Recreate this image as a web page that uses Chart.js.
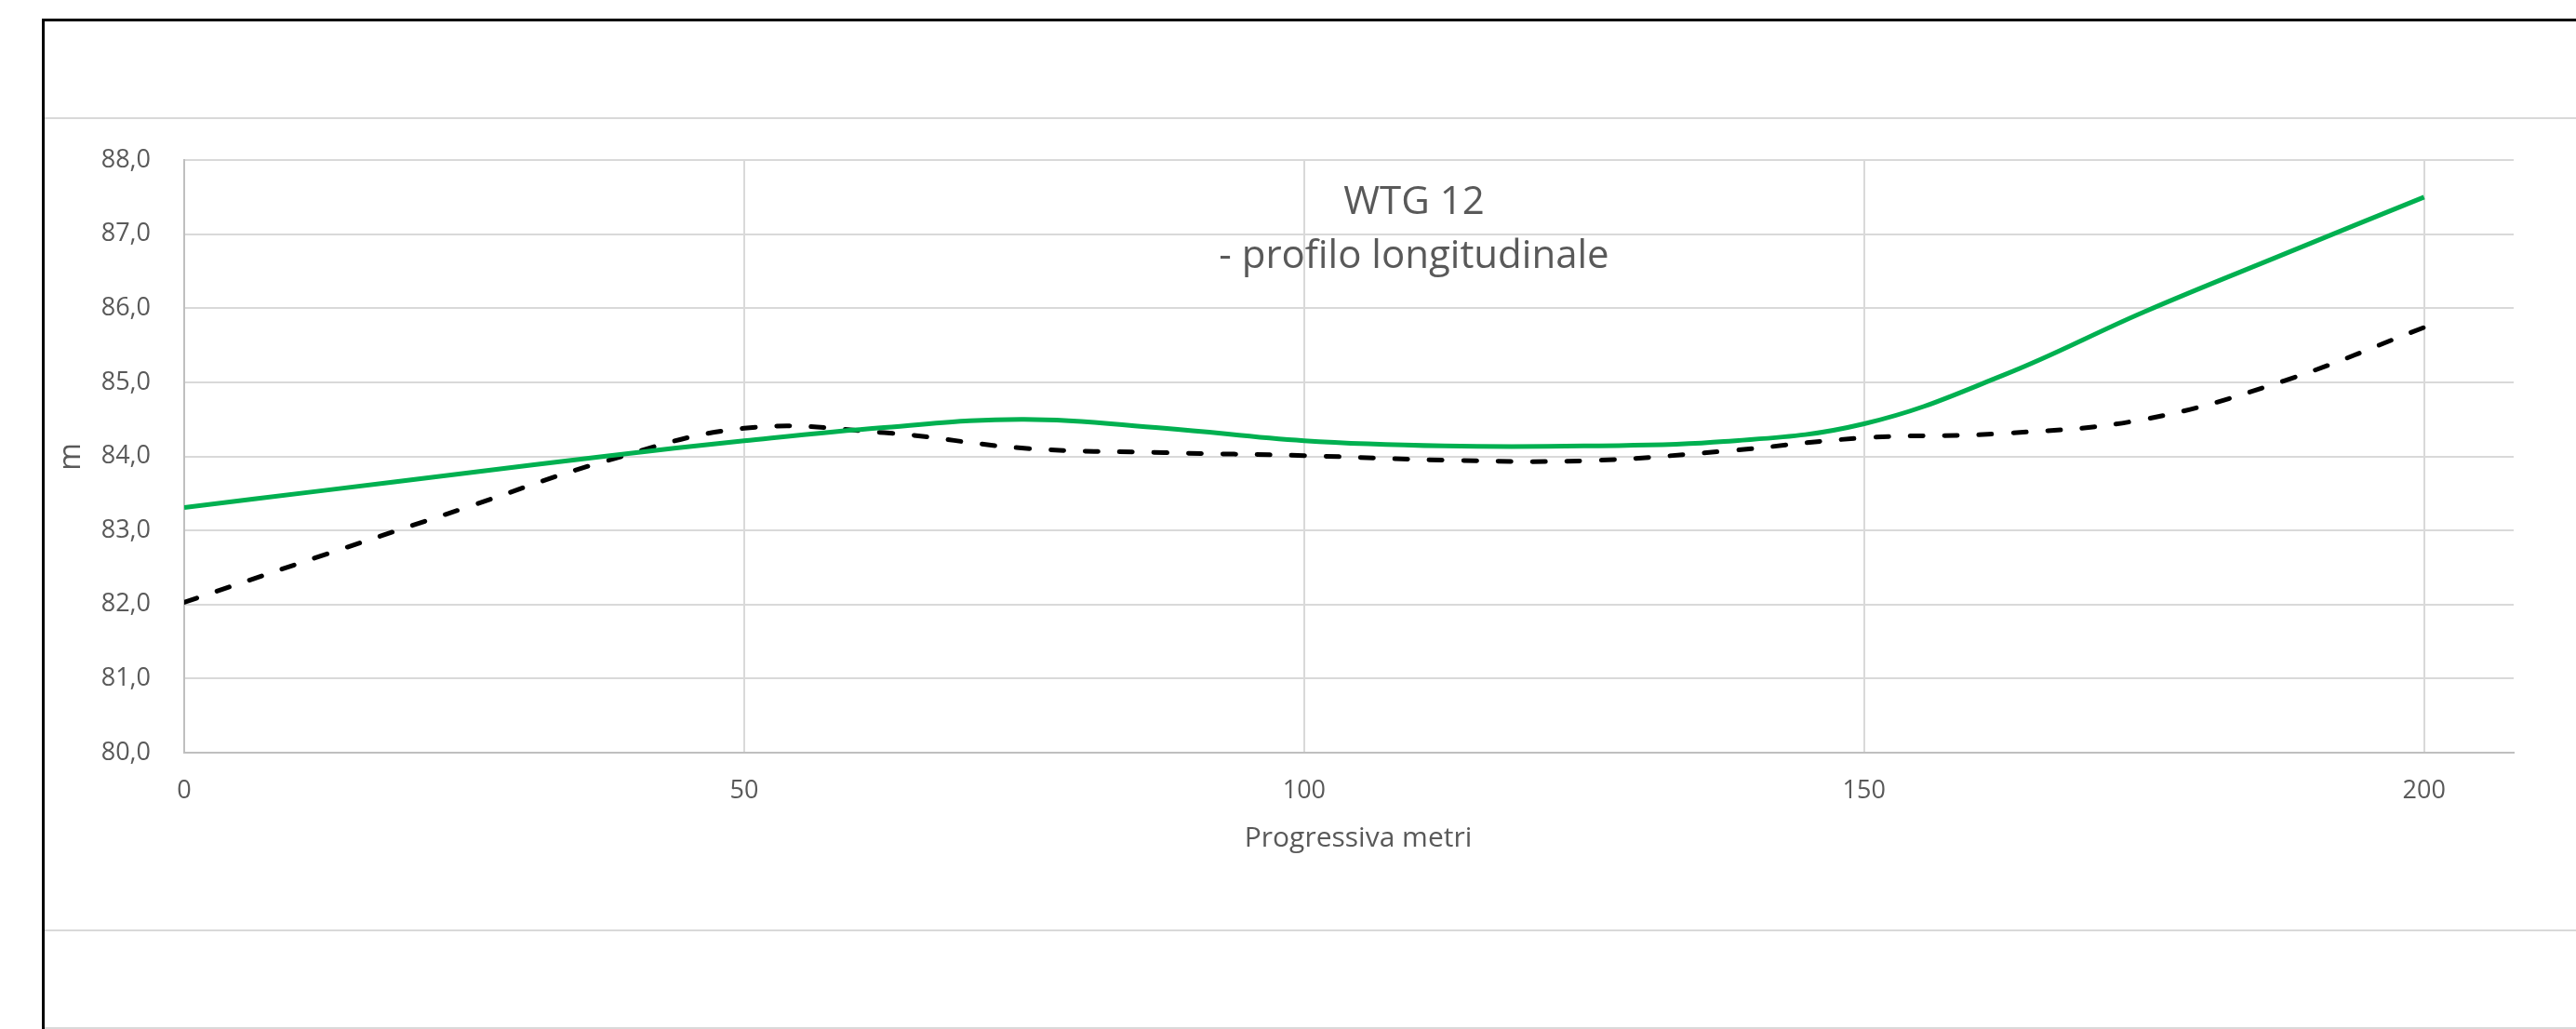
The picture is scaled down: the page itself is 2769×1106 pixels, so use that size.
<!DOCTYPE html>
<html>
<head>
<meta charset="utf-8">
<script src="https://cdn.jsdelivr.net/npm/chart.js@4.4.1/dist/chart.umd.min.js"></script>
<style>
  body { margin: 0; background: #fff; }
  #wrap { position: relative; width: 2769px; height: 1106px; overflow: hidden; }
  .line { position: absolute; }
  canvas { position: absolute; left: 0; top: 0; }
</style>
</head>
<body>
<div id="wrap">
  <div class="line" style="left:46px;top:20px;width:2723px;height:3px;background:#000"></div>
  <div class="line" style="left:45px;top:20px;width:3px;height:1086px;background:#000"></div>
  <div class="line" style="left:48px;top:126px;width:2721px;height:2px;background:#d9d9d9"></div>
  <div class="line" style="left:48px;top:999px;width:2721px;height:2px;background:#d9d9d9"></div>
  <div class="line" style="left:48px;top:1104px;width:2721px;height:2px;background:#d9d9d9"></div>
  <canvas id="myChart" width="2769" height="1106"></canvas>
</div>
<script>
// progressiva (m) and quote (m)
const progressiva = [0, 12.5, 25, 37.5, 50, 62.5, 75, 87.5, 100, 112.5, 125, 137.5, 150, 162.5, 175, 187.5, 200];
const quotaProgetto = [83.31, 83.54, 83.77, 84.00, 84.21, 84.39, 84.50, 84.38, 84.21, 84.14, 84.14, 84.20, 84.44, 85.10, 85.95, 86.73, 87.50];
const quotaTerreno = [82.03, 82.67, 83.30, 83.93, 84.38, 84.32, 84.11, 84.05, 84.01, 83.95, 83.94, 84.07, 84.25, 84.31, 84.50, 85.02, 85.74];
const titleLines = ["WTG 12", "- profilo longitudinale"];
const xTitle = "Progressiva metri";
const yTitle = "m";

const font = "'Open Sans', sans-serif";
const grey = "#595959";

function pts(ys) {
  return progressiva.map((x, i) => ({ x: x, y: ys[i] }));
}

const textPlugin = {
  id: "texts",
  afterDraw(chart) {
    const ctx = chart.ctx;
    const a = chart.chartArea;
    ctx.save();
    ctx.fillStyle = grey;
    ctx.textAlign = "center";
    ctx.textBaseline = "alphabetic";
    ctx.font = "42px " + font;
    ctx.fillText(titleLines[0], 1520, 230);
    ctx.fillText(titleLines[1], 1520, 288);
    ctx.font = "30px " + font;
    ctx.fillText(xTitle, (a.left + a.right) / 2 + 10, 910);
    ctx.translate(77, 491);
    ctx.rotate(-Math.PI / 2);
    ctx.textBaseline = "middle";
    ctx.font = "32px " + font;
    ctx.fillText(yTitle, 0, 0);
    ctx.restore();
  }
};

const ctx = document.getElementById("myChart");
const myChart = new Chart(ctx, {
  type: "line",
  data: {
    datasets: [
      {
        label: "progetto",
        data: pts(quotaProgetto),
        borderColor: "#00b050",
        borderWidth: 5,
        pointRadius: 0,
        tension: 0.4,
        fill: false,
      },
      {
        label: "terreno",
        data: pts(quotaTerreno),
        borderColor: "#000000",
        borderWidth: 5,
        borderDash: [14, 23],
        borderCapStyle: "round",
        pointRadius: 0,
        tension: 0.4,
        fill: false,
      },
    ],
  },
  options: {
    responsive: false,
    animation: false,
    layout: { padding: { left: 0, top: 172, right: 67, bottom: 0 } },
    plugins: {
      legend: { display: false },
      tooltip: { enabled: false },
    },
    scales: {
      x: {
        type: "linear",
        min: 0,
        max: 208,
        afterBuildTicks: (axis) => {
          axis.ticks = axis.ticks.filter((t) => t.value % 50 === 0);
        },
        afterFit: (s) => { s.height = 297; },
        ticks: {
          stepSize: 50,
          padding: 25,
          color: grey,
          font: { family: font, size: 27 },
          maxRotation: 0,
        },
        grid: { color: "#d9d9d9", lineWidth: 2, drawTicks: false },
        border: { color: "#bfbfbf", width: 2 },
      },
      y: {
        min: 80,
        max: 88,
        afterFit: (s) => { s.width = 198; },
        ticks: {
          stepSize: 1,
          padding: 36,
          color: grey,
          font: { family: font, size: 27 },
          callback: (v) => v.toFixed(1).replace(".", ","),
        },
        grid: { color: "#d9d9d9", lineWidth: 2, drawTicks: false },
        border: { color: "#bfbfbf", width: 2 },
      },
    },
  },
  plugins: [textPlugin],
});
</script>
</body>
</html>
